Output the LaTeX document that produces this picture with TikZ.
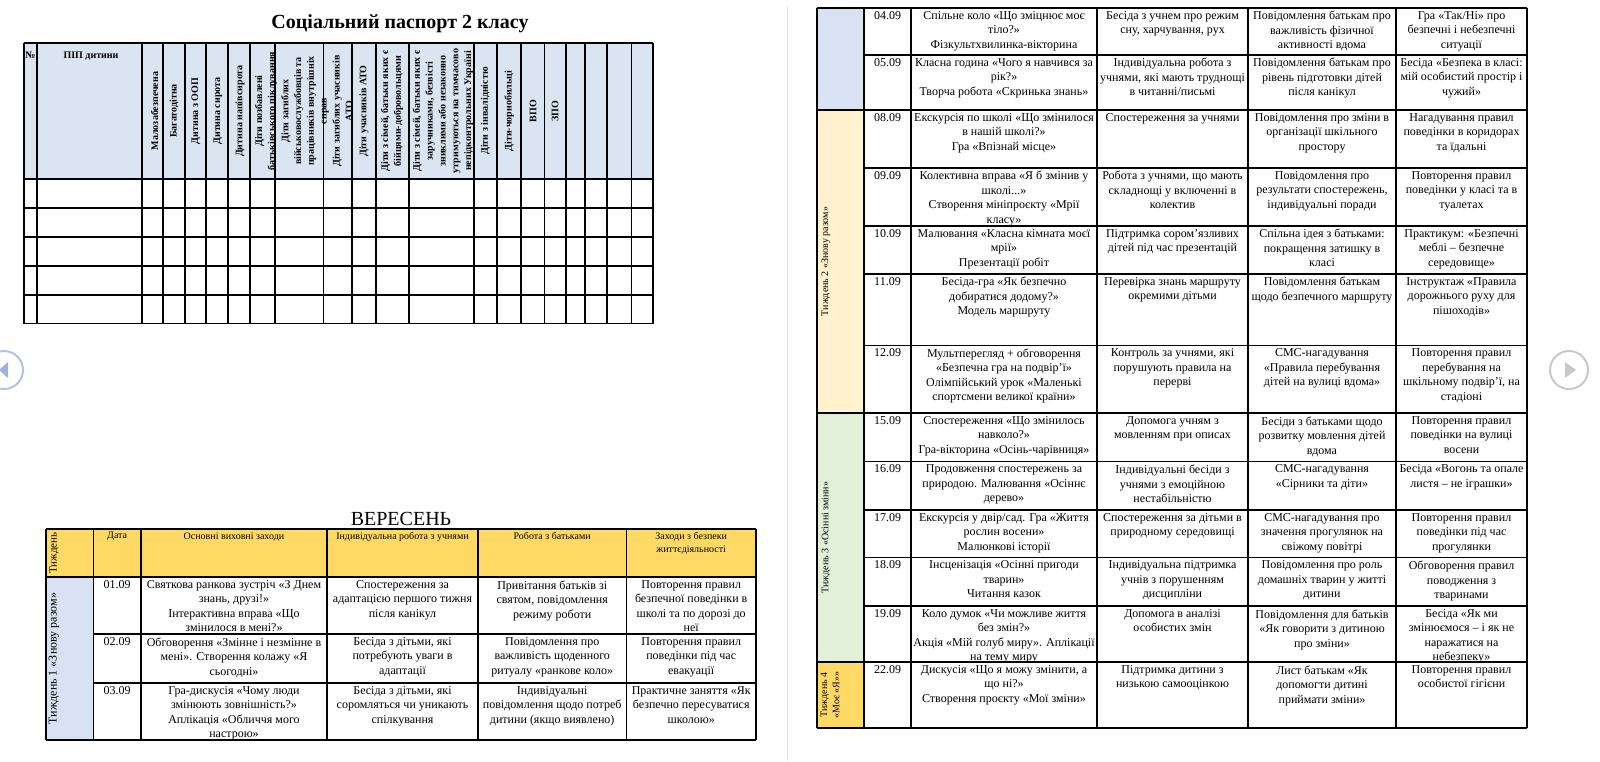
\documentclass[tikz,border=0pt]{standalone}
\usepackage{fontspec}
\setmainfont{Liberation Serif}
\usepackage{xcolor}
\usepackage{tikz}
\definecolor{passblue}{HTML}{DBE5F1}
\definecolor{weekblue}{HTML}{D9E2F3}
\definecolor{weekyellow}{HTML}{FFF2CC}
\definecolor{weekgreen}{HTML}{E2EFD9}
\definecolor{weekgold}{HTML}{FFD966}
\definecolor{navblue}{HTML}{9DB4D8}
\definecolor{navgray}{HTML}{C8C8C8}
\newcommand{\daytext}{\fontsize{6}{7.25}\selectfont}
\newcommand{\headtext}{\fontsize{5}{6.3}\selectfont}
\newcommand{\weektext}{\fontsize{5}{6.2}\selectfont}
\newcommand{\passtext}{\fontsize{5}{6.4}\selectfont\bfseries}
\tikzset{
page line/.style = { draw = black!12, line width = 0.5pt },
grid line/.style = { draw = black, line width = 0.55pt },
day cell/.style = { anchor = north, align = center, inner sep = 0.75pt, font = \daytext },
head cell/.style = { anchor = north, align = center, inner sep = 0.75pt, font = \headtext },
week cell/.style = { rotate = 90, align = center, inner sep = 0pt, font = \weektext },
pass head/.style = { rotate = 90, align = center, inner sep = 0pt, font = \passtext },
}
\begin{document}
\begin{tikzpicture}[x = 0.5pt, y = -0.5pt]
      \useasboundingbox (0, 0) rectangle (1600, 761);
      % page divider and page buttons
      \path[page line] (787, 6) -- (787, 761);
      \path[draw = navblue!80, line width = 1pt] (4, 370) circle (9.5pt);
      \path[fill = navblue] (-1, 370) -- (8, 362) -- (8, 378) -- cycle;
      \path[draw = navgray, line width = 1pt] (1569, 370) circle (9.5pt);
      \path[fill = navgray] (1576, 370) -- (1565, 362) -- (1565, 378) -- cycle;
      % social passport
      \node[font = \fontsize{10}{12}\selectfont\bfseries, anchor = base] (title) at (400, 28.5) {Соціальний паспорт 2 класу};
      \path[fill = passblue] (24, 43) rectangle (653, 179);
      \path[grid line] (24, 43) -- (653, 43) (24, 179) -- (653, 179) (24, 208) -- (653, 208) (24, 237) -- (653, 237) (24, 266) -- (653, 266) (24, 295) -- (653, 295) (24, 323.5) -- (653, 323.5);
      \path[grid line] (24, 43) -- (24, 323.5) (37, 43) -- (37, 323.5) (142, 43) -- (142, 323.5) (163, 43) -- (163, 323.5) (185, 43) -- (185, 323.5) (206, 43) -- (206, 323.5) (228, 43) -- (228, 323.5) (250, 43) -- (250, 323.5) (275, 43) -- (275, 323.5) (323.5, 43) -- (323.5, 323.5) (352, 43) -- (352, 323.5);
      \path[grid line] (376, 43) -- (376, 323.5) (409, 43) -- (409, 323.5) (474, 43) -- (474, 323.5) (497, 43) -- (497, 323.5) (521, 43) -- (521, 323.5) (544.5, 43) -- (544.5, 323.5) (566, 43) -- (566, 323.5) (585, 43) -- (585, 323.5) (607, 43) -- (607, 323.5) (631.5, 43) -- (631.5, 323.5) (653, 43) -- (653, 323.5);
      \node[font = \passtext, anchor = north] (pnum) at (30.5, 45) {№};
      \node[font = \passtext, anchor = north] (pname) at (91, 45) {ПІП дитини};
      \node[pass head] (p1) at (154.5, 111) {Малозабезпечена};
      \node[pass head] (p2) at (174, 111) {Багатодітна};
      \node[pass head] (p3) at (196, 111) {Дитина з ООП};
      \node[pass head] (p4) at (218, 111) {Дитина сирота};
      \node[pass head] (p5) at (240, 111) {Дитина напівсирота};
      \node[pass head] (p6) at (266, 111) {Діти позбавлені\\батьківського піклування};
      \node[pass head] (p7) at (305, 111) {Діти загиблих\\військовослужбовців та\\працівників внутрішніх\\справ};
      \node[pass head] (p8) at (342.5, 111) {Діти загиблих учасників\\АТО};
      \node[pass head] (p9) at (364, 111) {Діти учасників АТО};
      \node[pass head] (p10) at (392, 111) {Діти з сімей, батьки яких є\\бійцями-добровольцями};
      \node[pass head] (p11) at (443, 111) {Діти з сімей, батьки яких є\\заручниками, безвісті\\зниклими або незаконно\\утримуються на тимчасово\\непідконтрольних Україні};
      \node[pass head] (p12) at (485.5, 111) {Діти з інвалідністю};
      \node[pass head] (p13) at (509, 111) {Діти-чорнобильці};
      \node[pass head] (p14) at (533, 111) {ВПО};
      \node[pass head] (p15) at (555, 111) {ЗПО};
      % september, page one
      \node[font = \fontsize{10}{12}\selectfont, anchor = base] (month) at (401, 525) {ВЕРЕСЕНЬ};
      \path[fill = weekgold] (46, 529) rectangle (756, 577);
      \path[fill = weekblue] (46, 577) rectangle (93.3, 740);
      \path[grid line] (46, 529) -- (756, 529) (46, 577) -- (756, 577) (93.3, 634) -- (756, 634) (93.3, 683) -- (756, 683) (46, 740) -- (756, 740);
      \path[grid line] (46, 529) -- (46, 740) (93.3, 529) -- (93.3, 740) (141, 529) -- (141, 740) (327, 529) -- (327, 740) (478, 529) -- (478, 740) (626.5, 529) -- (626.5, 740) (756, 529) -- (756, 740);
      \node[week cell, font = \fontsize{5.5}{6.5}\selectfont] (hweek) at (54, 553) {Тиждень};
      \node[head cell] (hdate) at (117.2, 530.5) {Дата};
      \node[head cell] (hmain) at (234, 530.5) {Основні виховні заходи};
      \node[head cell] (hind) at (402.5, 530.5) {Індивідуальна робота з учнями};
      \node[head cell] (hpar) at (552.2, 530.5) {Робота з батьками};
      \node[head cell] (hsafe) at (691.2, 530.5) {Заходи з безпеки\\життєдіяльності};
      \node[week cell, font = \daytext] (w1) at (54, 658.5) {Тиждень 1 «Знову разом»};
      \node[day cell] (d0109) at (117.2, 578.5) {01.09};
      \node[day cell] (m0109) at (234, 578.5) {Святкова ранкова зустріч «З Днем\\знань, друзі!»\\Інтерактивна вправа «Що\\змінилося в мені?»};
      \node[day cell] (i0109) at (402.5, 578.5) {Спостереження за\\адаптацією першого тижня\\після канікул};
      \node[day cell] (b0109) at (552.2, 578.5) {Привітання батьків зі\\святом, повідомлення\\режиму роботи};
      \node[day cell] (z0109) at (691.2, 578.5) {Повторення правил\\безпечної поведінки в\\школі та по дорозі до\\неї};
      \node[day cell] (d0209) at (117.2, 635.5) {02.09};
      \node[day cell] (m0209) at (234, 635.5) {Обговорення «Змінне і незмінне в\\мені». Створення колажу «Я\\сьогодні»};
      \node[day cell] (i0209) at (402.5, 635.5) {Бесіда з дітьми, які\\потребують уваги в\\адаптації};
      \node[day cell] (b0209) at (552.2, 635.5) {Повідомлення про\\важливість щоденного\\ритуалу «ранкове коло»};
      \node[day cell] (z0209) at (691.2, 635.5) {Повторення правил\\поведінки під час\\евакуації};
      \node[day cell] (d0309) at (117.2, 684.5) {03.09};
      \node[day cell] (m0309) at (234, 684.5) {Гра-дискусія «Чому люди\\змінюють зовнішність?»\\Аплікація «Обличчя мого\\настрою»};
      \node[day cell] (i0309) at (402.5, 684.5) {Бесіда з дітьми, які\\соромляться чи уникають\\спілкування};
      \node[day cell] (b0309) at (552.2, 684.5) {Індивідуальні\\повідомлення щодо потреб\\дитини (якщо виявлено)};
      \node[day cell] (z0309) at (691.2, 684.5) {Практичне заняття «Як\\безпечно пересуватися\\школою»};
      % september, page two
      \path[fill = weekblue] (817, 8) rectangle (864, 110);
      \path[fill = weekyellow] (817, 110) rectangle (864, 413);
      \path[fill = weekgreen] (817, 413) rectangle (864, 662);
      \path[fill = weekgold] (817, 662) rectangle (864, 728);
      \path[grid line] (817, 8) -- (1527, 8) (817, 110) -- (1527, 110) (817, 413) -- (1527, 413) (817, 662) -- (1527, 662) (817, 728) -- (1527, 728);
      \path[grid line] (864, 55) -- (1527, 55) (864, 168) -- (1527, 168) (864, 226) -- (1527, 226) (864, 274) -- (1527, 274) (864, 345.5) -- (1527, 345.5) (864, 461.5) -- (1527, 461.5) (864, 510) -- (1527, 510) (864, 557.5) -- (1527, 557.5) (864, 606) -- (1527, 606);
      \path[grid line] (817, 8) -- (817, 728) (864, 8) -- (864, 728) (911, 8) -- (911, 728) (1097, 8) -- (1097, 728) (1248, 8) -- (1248, 728) (1396, 8) -- (1396, 728) (1527, 8) -- (1527, 728);
      \node[week cell] (w2) at (826, 261.5) {Тиждень 2 «Знову разом»};
      \node[week cell] (w3) at (826, 537.5) {Тиждень 3 «Осінні зміни»};
      \node[week cell] (w4) at (830, 695) {Тиждень 4\\«Моє «Я»»};
      \node[day cell] (d0409) at (887.5, 9.5) {04.09};
      \node[day cell] (m0409) at (1004, 9.5) {Спільне коло «Що зміцнює моє\\тіло?»\\Фізкультхвилинка-вікторина};
      \node[day cell] (i0409) at (1172.5, 9.5) {Бесіда з учнем про режим\\сну, харчування, рух};
      \node[day cell] (b0409) at (1322, 9.5) {Повідомлення батькам про\\важливість фізичної\\активності вдома};
      \node[day cell] (z0409) at (1461.5, 9.5) {Гра «Так/Ні» про\\безпечні і небезпечні\\ситуації};
      \node[day cell] (d0509) at (887.5, 56.5) {05.09};
      \node[day cell] (m0509) at (1004, 56.5) {Класна година «Чого я навчився за\\рік?»\\Творча робота «Скринька знань»};
      \node[day cell] (i0509) at (1172.5, 56.5) {Індивідуальна робота з\\учнями, які мають труднощі\\в читанні/письмі};
      \node[day cell] (b0509) at (1322, 56.5) {Повідомлення батькам про\\рівень підготовки дітей\\після канікул};
      \node[day cell] (z0509) at (1461.5, 56.5) {Бесіда «Безпека в класі:\\мій особистий простір і\\чужий»};
      \node[day cell] (d0809) at (887.5, 111.5) {08.09};
      \node[day cell] (m0809) at (1004, 111.5) {Екскурсія по школі «Що змінилося\\в нашій школі?»\\Гра «Впізнай місце»};
      \node[day cell] (i0809) at (1172.5, 111.5) {Спостереження за учнями};
      \node[day cell] (b0809) at (1322, 111.5) {Повідомлення про зміни в\\організації шкільного\\простору};
      \node[day cell] (z0809) at (1461.5, 111.5) {Нагадування правил\\поведінки в коридорах\\та їдальні};
      \node[day cell] (d0909) at (887.5, 169.5) {09.09};
      \node[day cell] (m0909) at (1004, 169.5) {Колективна вправа «Я б змінив у\\школі...»\\Створення мініпроєкту «Мрії\\класу»};
      \node[day cell] (i0909) at (1172.5, 169.5) {Робота з учнями, що мають\\складнощі у включенні в\\колектив};
      \node[day cell] (b0909) at (1322, 169.5) {Повідомлення про\\результати спостережень,\\індивідуальні поради};
      \node[day cell] (z0909) at (1461.5, 169.5) {Повторення правил\\поведінки у класі та в\\туалетах};
      \node[day cell] (d1009) at (887.5, 227.5) {10.09};
      \node[day cell] (m1009) at (1004, 227.5) {Малювання «Класна кімната моєї\\мрії»\\Презентації робіт};
      \node[day cell] (i1009) at (1172.5, 227.5) {Підтримка сором’язливих\\дітей під час презентацій};
      \node[day cell] (b1009) at (1322, 227.5) {Спільна ідея з батьками:\\покращення затишку в\\класі};
      \node[day cell] (z1009) at (1461.5, 227.5) {Практикум: «Безпечні\\меблі – безпечне\\середовище»};
      \node[day cell] (d1109) at (887.5, 275.5) {11.09};
      \node[day cell] (m1109) at (1004, 275.5) {Бесіда-гра «Як безпечно\\добиратися додому?»\\Модель маршруту};
      \node[day cell] (i1109) at (1172.5, 275.5) {Перевірка знань маршруту\\окремими дітьми};
      \node[day cell] (b1109) at (1322, 275.5) {Повідомлення батькам\\щодо безпечного маршруту};
      \node[day cell] (z1109) at (1461.5, 275.5) {Інструктаж «Правила\\дорожнього руху для\\пішоходів»};
      \node[day cell] (d1209) at (887.5, 347) {12.09};
      \node[day cell] (m1209) at (1004, 347) {Мультперегляд + обговорення\\«Безпечна гра на подвір’ї»\\Олімпійський урок «Маленькі\\спортсмени великої країни»};
      \node[day cell] (i1209) at (1172.5, 347) {Контроль за учнями, які\\порушують правила на\\перерві};
      \node[day cell] (b1209) at (1322, 347) {СМС-нагадування\\«Правила перебування\\дітей на вулиці вдома»};
      \node[day cell] (z1209) at (1461.5, 347) {Повторення правил\\перебування на\\шкільному подвір’ї, на\\стадіоні};
      \node[day cell] (d1509) at (887.5, 414.5) {15.09};
      \node[day cell] (m1509) at (1004, 414.5) {Спостереження «Що змінилось\\навколо?»\\Гра-вікторина «Осінь-чарівниця»};
      \node[day cell] (i1509) at (1172.5, 414.5) {Допомога учням з\\мовленням при описах};
      \node[day cell] (b1509) at (1322, 414.5) {Бесіди з батьками щодо\\розвитку мовлення дітей\\вдома};
      \node[day cell] (z1509) at (1461.5, 414.5) {Повторення правил\\поведінки на вулиці\\восени};
      \node[day cell] (d1609) at (887.5, 463) {16.09};
      \node[day cell] (m1609) at (1004, 463) {Продовження спостережень за\\природою. Малювання «Осіннє\\дерево»};
      \node[day cell] (i1609) at (1172.5, 463) {Індивідуальні бесіди з\\учнями з емоційною\\нестабільністю};
      \node[day cell] (b1609) at (1322, 463) {СМС-нагадування\\«Сірники та діти»};
      \node[day cell] (z1609) at (1461.5, 463) {Бесіда «Вогонь та опале\\листя – не іграшки»};
      \node[day cell] (d1709) at (887.5, 511.5) {17.09};
      \node[day cell] (m1709) at (1004, 511.5) {Екскурсія у двір/сад. Гра «Життя\\рослин восени»\\Малюнкові історії};
      \node[day cell] (i1709) at (1172.5, 511.5) {Спостереження за дітьми в\\природному середовищі};
      \node[day cell] (b1709) at (1322, 511.5) {СМС-нагадування про\\значення прогулянок на\\свіжому повітрі};
      \node[day cell] (z1709) at (1461.5, 511.5) {Повторення правил\\поведінки під час\\прогулянки};
      \node[day cell] (d1809) at (887.5, 559) {18.09};
      \node[day cell] (m1809) at (1004, 559) {Інсценізація «Осінні пригоди\\тварин»\\Читання казок};
      \node[day cell] (i1809) at (1172.5, 559) {Індивідуальна підтримка\\учнів з порушенням\\дисципліни};
      \node[day cell] (b1809) at (1322, 559) {Повідомлення про роль\\домашніх тварин у житті\\дитини};
      \node[day cell] (z1809) at (1461.5, 559) {Обговорення правил\\поводження з\\тваринами};
      \node[day cell] (d1909) at (887.5, 607.5) {19.09};
      \node[day cell] (m1909) at (1004, 607.5) {Коло думок «Чи можливе життя\\без змін?»\\Акція «Мій голуб миру». Аплікації\\на тему миру};
      \node[day cell] (i1909) at (1172.5, 607.5) {Допомога в аналізі\\особистих змін};
      \node[day cell] (b1909) at (1322, 607.5) {Повідомлення для батьків\\«Як говорити з дитиною\\про зміни»};
      \node[day cell] (z1909) at (1461.5, 607.5) {Бесіда «Як ми\\змінюємося – і як не\\наражатися на\\небезпеку»};
      \node[day cell] (d2209) at (887.5, 663.5) {22.09};
      \node[day cell] (m2209) at (1004, 663.5) {Дискусія «Що я можу змінити, а\\що ні?»\\Створення проєкту «Мої зміни»};
      \node[day cell] (i2209) at (1172.5, 663.5) {Підтримка дитини з\\низькою самооцінкою};
      \node[day cell] (b2209) at (1322, 663.5) {Лист батькам «Як\\допомогти дитині\\приймати зміни»};
      \node[day cell] (z2209) at (1461.5, 663.5) {Повторення правил\\особистої гігієни};
\end{tikzpicture}
\end{document}
